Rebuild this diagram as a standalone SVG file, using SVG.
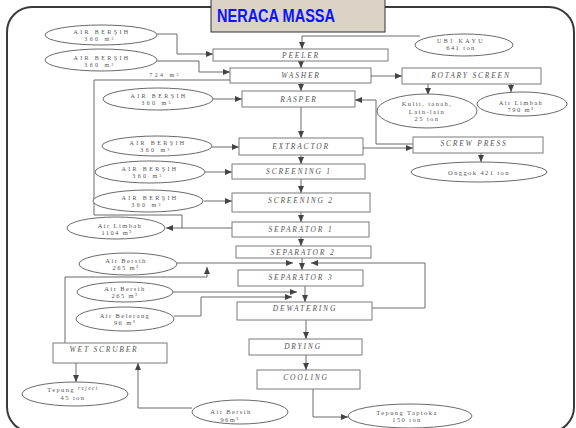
<svg xmlns="http://www.w3.org/2000/svg" width="576" height="428" viewBox="0 0 576 428">
<style>
.frame{fill:none;stroke:#3a3a3a;stroke-width:2}
.box{fill:#fff;stroke:#7a7a7a;stroke-width:1}
.ell{fill:#fff;stroke:#6a6a6a;stroke-width:1}
.ln{fill:none;stroke:#6a6a6a;stroke-width:1}
.bx{font-family:"Liberation Serif",serif;font-style:italic;font-size:7.5px;letter-spacing:1.8px;fill:#555;text-anchor:middle}
.uc{font-family:"Liberation Serif",serif;font-size:6px;letter-spacing:2.4px;fill:#555;text-anchor:middle}
.lc{font-family:"Liberation Serif",serif;font-size:6.5px;letter-spacing:1.4px;fill:#555;text-anchor:middle}
.ttl{font-family:"Liberation Sans",sans-serif;font-weight:bold;font-size:18px;fill:#0a14ff}
</style>
<defs>
<marker id="a" markerWidth="8" markerHeight="6" refX="7" refY="3" orient="auto" markerUnits="userSpaceOnUse">
<path d="M0,0 L7,3 L0,6 z" fill="#444"/>
</marker>
</defs>
<rect width="576" height="428" fill="#fff"/>
<rect class="frame" x="7" y="7" width="567" height="425" rx="25" ry="25"/>
<g id="title">
<rect x="211" y="-1" width="174" height="33" fill="#dbd3c5" stroke="#333" stroke-width="1"/>
<text class="ttl" x="217" y="22" textLength="118" lengthAdjust="spacingAndGlyphs">NERACA MASSA</text>
</g>
<g id="connectors">
<path class="ln" d="M420,36 H302 V49" marker-end="url(#a)"/>
<path class="ln" d="M157,34 H177 V54 H213" marker-end="url(#a)"/>
<path class="ln" d="M157,61 H199 V72 H230" marker-end="url(#a)"/>
<path class="ln" d="M230,80 H94 V215 H182 V228"/>
<path class="ln" d="M232,228 H166" marker-end="url(#a)"/>
<path class="ln" d="M301,61 V68" marker-end="url(#a)"/>
<path class="ln" d="M301,83 V91" marker-end="url(#a)"/>
<path class="ln" d="M301,107 V138" marker-end="url(#a)"/>
<path class="ln" d="M301,155 V164" marker-end="url(#a)"/>
<path class="ln" d="M301,179 V193" marker-end="url(#a)"/>
<path class="ln" d="M301,212 V222" marker-end="url(#a)"/>
<path class="ln" d="M301,237 V246" marker-end="url(#a)"/>
<path class="ln" d="M302,258 V270" marker-end="url(#a)"/>
<path class="ln" d="M305,286 V302" marker-end="url(#a)"/>
<path class="ln" d="M306,320 V339" marker-end="url(#a)"/>
<path class="ln" d="M306,355 V370" marker-end="url(#a)"/>
<path class="ln" d="M313,389 V417 H348" marker-end="url(#a)"/>
<path class="ln" d="M371,76 H402" marker-end="url(#a)"/>
<path class="ln" d="M428,84 V95" marker-end="url(#a)"/>
<path class="ln" d="M511,84 V92" marker-end="url(#a)"/>
<path class="ln" d="M413,144 H376 V100 H355" marker-end="url(#a)"/>
<path class="ln" d="M363,148 H413" marker-end="url(#a)"/>
<path class="ln" d="M481,153 V162" marker-end="url(#a)"/>
<path class="ln" d="M213,99 H242" marker-end="url(#a)"/>
<path class="ln" d="M212,147 H239" marker-end="url(#a)"/>
<path class="ln" d="M205,172 H232" marker-end="url(#a)"/>
<path class="ln" d="M204,201 H232" marker-end="url(#a)"/>
<path class="ln" d="M177,263 H293" marker-end="url(#a)"/>
<path class="ln" d="M372,308 H425 V263 H311" marker-end="url(#a)"/>
<path class="ln" d="M65,343 V277 H207 V267" marker-end="url(#a)"/>
<path class="ln" d="M173,292 H297" marker-end="url(#a)"/>
<path class="ln" d="M174,316 H201 V297 H292" marker-end="url(#a)"/>
<path class="ln" d="M76,363 V382" marker-end="url(#a)"/>
<path class="ln" d="M192,408 H138 V363" marker-end="url(#a)"/>
</g>
<g id="peeler"><rect class="box" x="213" y="49" width="175" height="12"/><text class="bx" x="301" y="57.5">PEELER</text></g>
<g id="washer"><rect class="box" x="230" y="68" width="141" height="15"/><text class="bx" x="301" y="78">WASHER</text></g>
<g id="rasper"><rect class="box" x="242" y="91" width="113" height="16"/><text class="bx" x="299" y="101.5">RASPER</text></g>
<g id="extractor"><rect class="box" x="239" y="138" width="124" height="17"/><text class="bx" x="301" y="149">EXTRACTOR</text></g>
<g id="screening1"><rect class="box" x="232" y="164" width="133" height="15"/><text class="bx" x="299" y="174">SCREENING 1</text></g>
<g id="screening2"><rect class="box" x="232" y="193" width="138" height="19"/><text class="bx" x="301" y="203">SCREENING 2</text></g>
<g id="separator1"><rect class="box" x="232" y="222" width="137" height="15"/><text class="bx" x="301" y="232">SEPARATOR 1</text></g>
<g id="separator2"><rect class="box" x="236" y="246" width="135" height="12"/><text class="bx" x="303" y="254.5">SEPARATOR 2</text></g>
<g id="separator3"><rect class="box" x="238" y="270" width="125" height="16"/><text class="bx" x="301" y="280">SEPARATOR 3</text></g>
<g id="dewatering"><rect class="box" x="237" y="302" width="135" height="18"/><text class="bx" x="305" y="311">DEWATERING</text></g>
<g id="drying"><rect class="box" x="249" y="339" width="113" height="16"/><text class="bx" x="303" y="349">DRYING</text></g>
<g id="cooling"><rect class="box" x="257" y="370" width="103" height="19"/><text class="bx" x="306" y="380">COOLING</text></g>
<g id="wetscruber"><rect class="box" x="53" y="343" width="114" height="20"/><text class="bx" x="104" y="352">WET SCRUBER</text></g>
<g id="rotaryscreen"><rect class="box" x="402" y="68" width="139" height="16"/><text class="bx" x="471" y="78">ROTARY SCREEN</text></g>
<g id="screwpress"><rect class="box" x="413" y="137" width="130" height="16"/><text class="bx" x="474" y="146">SCREW PRESS</text></g>
<g id="ubikayu"><ellipse class="ell" cx="464" cy="45" rx="49" ry="11"/><text class="uc" x="461" y="42.5">UBI KAYU</text><text class="lc" x="461" y="50">641 ton</text></g>
<g id="airbersih1"><ellipse class="ell" cx="101" cy="35" rx="56" ry="10"/><text class="uc" x="102" y="34">AIR BERŞIH</text><text class="uc" x="100" y="41">360 m³</text></g>
<g id="airbersih2"><ellipse class="ell" cx="101" cy="60" rx="56" ry="11"/><text class="uc" x="102" y="59.5">AIR BERŞIH</text><text class="uc" x="100" y="66.5">360 m³</text></g>
<text class="uc" x="165" y="77">724 m³</text>
<g id="airbersih3"><ellipse class="ell" cx="158" cy="99" rx="55" ry="11"/><text class="uc" x="159" y="98">AIR BERŞIH</text><text class="uc" x="157" y="105">360 m³</text></g>
<g id="airbersih4"><ellipse class="ell" cx="157" cy="146" rx="55" ry="10"/><text class="uc" x="158" y="145">AIR BERŞIH</text><text class="uc" x="156" y="152">360 m³</text></g>
<g id="airbersih5"><ellipse class="ell" cx="150" cy="172" rx="55" ry="11"/><text class="uc" x="150" y="171">AIR BERŞIH</text><text class="uc" x="148" y="178">360 m³</text></g>
<g id="airbersih6"><ellipse class="ell" cx="148" cy="201" rx="55" ry="11"/><text class="uc" x="150" y="200">AIR BERŞIH</text><text class="uc" x="147" y="207">360 m³</text></g>
<g id="kulit"><ellipse class="ell" cx="427" cy="111" rx="50" ry="17"/><text class="lc" x="427" y="106">Kulit, tanah,</text><text class="lc" x="427" y="113.5">Lain-lain</text><text class="lc" x="427" y="121">25 ton</text></g>
<g id="airlimbah790"><ellipse class="ell" cx="522" cy="104" rx="45" ry="12"/><text class="lc" x="521" y="104.5">Air Limbah</text><text class="lc" x="521" y="112">790 m³</text></g>
<g id="onggok"><ellipse class="ell" cx="479" cy="172" rx="68" ry="10"/><text class="lc" x="479" y="175">Onggok 421 ton</text></g>
<g id="airlimbah1104"><ellipse class="ell" cx="116" cy="228" rx="49" ry="11"/><text class="lc" x="120" y="227.5">Air Limbah</text><text class="lc" x="117" y="235">1104 m³</text></g>
<g id="airbersih265a"><ellipse class="ell" cx="128" cy="264" rx="49" ry="11"/><text class="lc" x="126" y="262.5">Air Bersih</text><text class="lc" x="126" y="270">265 m³</text></g>
<g id="airbersih265b"><ellipse class="ell" cx="125" cy="292" rx="48" ry="10"/><text class="lc" x="125" y="290.5">Air Bersih</text><text class="lc" x="125" y="298">265 m³</text></g>
<g id="airbelerang"><ellipse class="ell" cx="125" cy="319" rx="49" ry="12"/><text class="lc" x="125" y="317.5">Air Belerang</text><text class="lc" x="125" y="325">96 m³</text></g>
<g id="tepungreject"><ellipse class="ell" cx="75" cy="394" rx="53" ry="12"/><text class="lc" x="73" y="391.5">Tepung <tspan font-style="italic" font-size="5.5" dy="-1.5">reject</tspan></text><text class="lc" x="73" y="400">45 ton</text></g>
<g id="airbersih96"><ellipse class="ell" cx="240" cy="412" rx="48" ry="12"/><text class="lc" x="231" y="414">Air Bersih</text><text class="lc" x="230" y="421.5">96m³</text></g>
<g id="tepungtapioka"><ellipse class="ell" cx="410" cy="416" rx="62" ry="12"/><text class="lc" x="407" y="414.5">Tepung Tapioka</text><text class="lc" x="407" y="422">150 ton</text></g>
</svg>
